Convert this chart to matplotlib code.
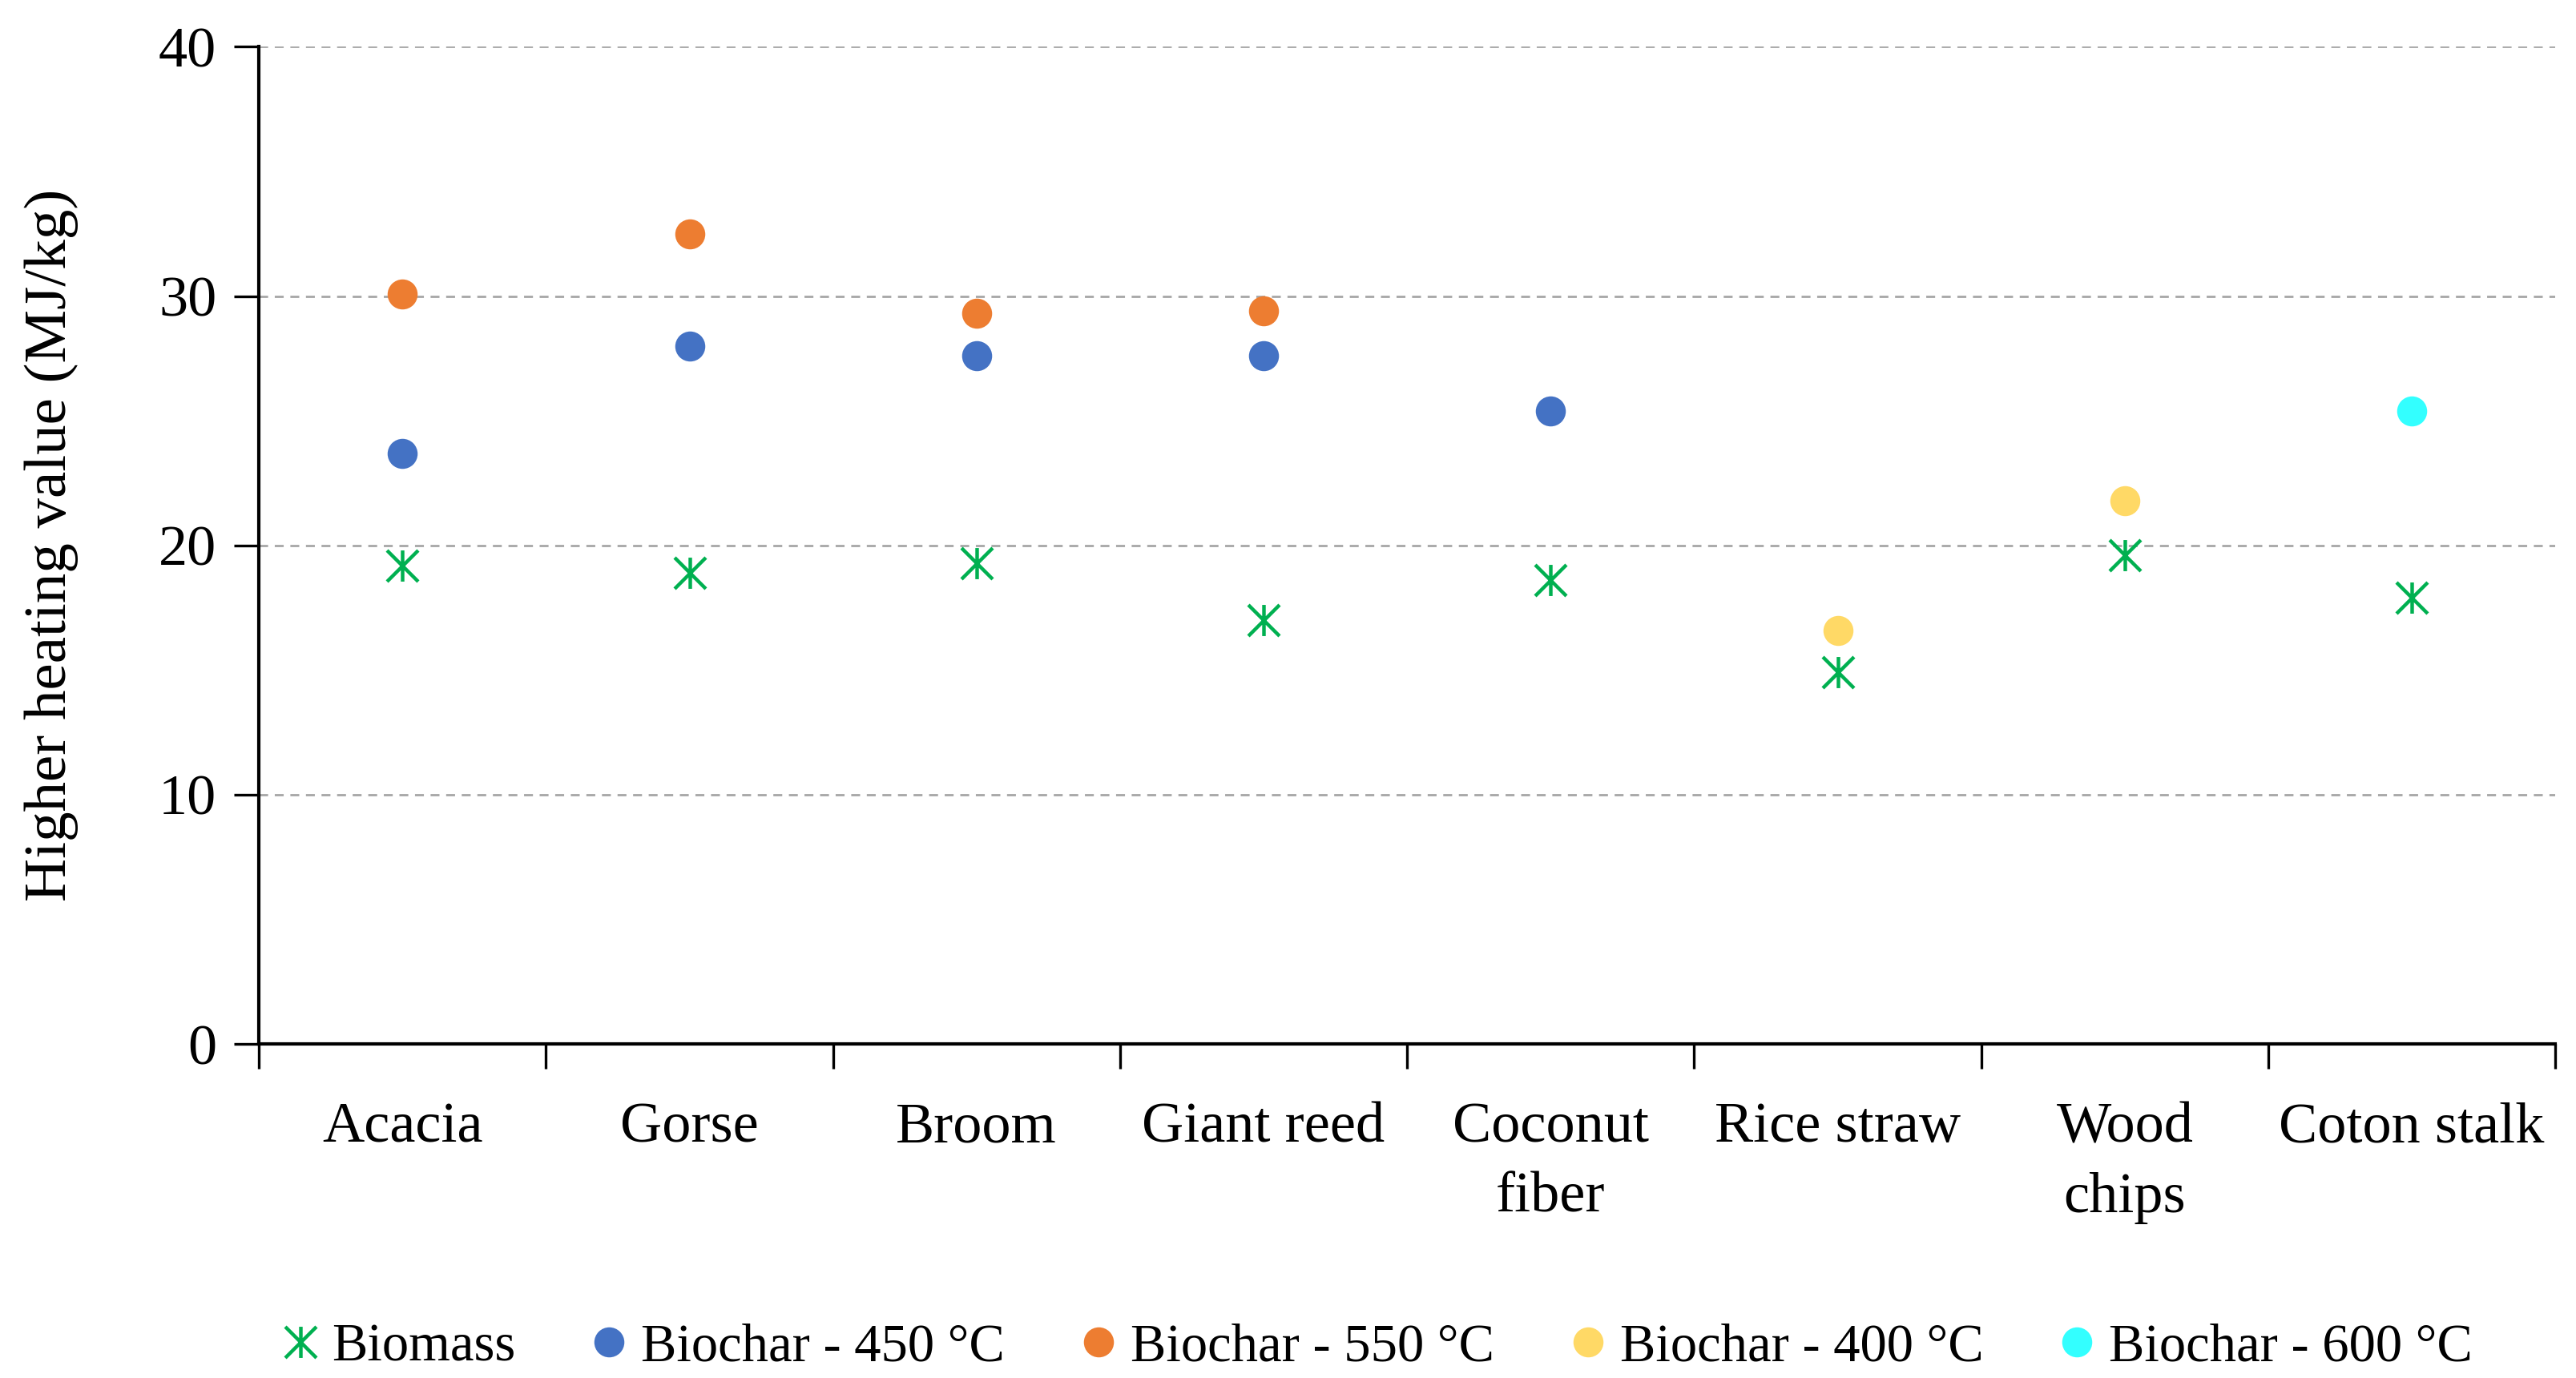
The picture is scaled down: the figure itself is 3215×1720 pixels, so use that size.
import numpy as np
import matplotlib
matplotlib.use('Agg')
import matplotlib.pyplot as plt
from matplotlib.path import Path

# данные
categories = ['Acacia', 'Gorse', 'Broom', 'Giant reed', 'Coconut\nfiber',
              'Rice straw', 'Wood\nchips', 'Coton stalk']
biomass = [19.2, 18.9, 19.3, 17.0, 18.6, 14.9, 19.6, 17.9]
biochar_450 = [23.7, 28.0, 27.6, 27.6, 25.4, None, None, None]
biochar_550 = [30.1, 32.5, 29.3, 29.4, None, None, None, None]
biochar_400 = [None, None, None, None, None, 16.6, 21.8, None]
biochar_600 = [None, None, None, None, None, None, None, 25.4]

plt.rcParams['font.family'] = ['Liberation Serif', 'DejaVu Serif']

# маркер "звезда" как в Excel: вертикаль + крест
star = Path([(0, -1), (0, 1), (-1, -1), (1, 1), (-1, 1), (1, -1)],
            [Path.MOVETO, Path.LINETO, Path.MOVETO, Path.LINETO, Path.MOVETO, Path.LINETO])

def to_arr(v):
    return np.array([np.nan if a is None else a for a in v], dtype=float)

x = np.arange(len(categories))

fig = plt.figure(figsize=(16.075, 8.6), dpi=200)
ax = fig.add_axes([0.1005, 0.2424, 0.8915, 0.7236])

ax.plot(x, to_arr(biomass), linestyle='none', marker=star, markersize=14,
        markeredgewidth=1.6, color='#00B050', label='Biomass')
series = [(biochar_450, '#4472C4', 'Biochar - 450 °C'),
          (biochar_550, '#ED7D31', 'Biochar - 550 °C'),
          (biochar_400, '#FFD966', 'Biochar - 400 °C'),
          (biochar_600, '#33FFFF', 'Biochar - 600 °C')]
for vals, col, lab in series:
    ax.plot(x, to_arr(vals), linestyle='none', marker='o', markersize=13.5,
            markeredgewidth=0, color=col, label=lab)

ax.set_xlim(-0.5, len(categories) - 0.5)
ax.set_ylim(0, 40)
ax.set_yticks([0, 10, 20, 30, 40])
ax.yaxis.grid(True, linestyle=(0, (4, 3)), color='#A6A6A6', linewidth=1.0)
ax.set_axisbelow(True)

ax.set_xticks(x)
ax.set_xticklabels(categories, fontsize=26, linespacing=1.45)
ax.set_xticks(np.arange(-0.5, len(categories)), minor=True)
ax.tick_params(axis='x', which='major', length=0, pad=26)
ax.tick_params(axis='x', which='minor', length=11, width=1.2, direction='out')
ax.tick_params(axis='y', length=11, width=1.2, labelsize=26, pad=8)

for s in ['top', 'right']:
    ax.spines[s].set_visible(False)
ax.spines['left'].set_linewidth(1.5)
ax.spines['bottom'].set_linewidth(1.5)

ax.set_ylabel('Higher heating value (MJ/kg)', fontsize=27, labelpad=36)

fig.legend(loc='center', bbox_to_anchor=(0.533, 0.022), ncol=5, frameon=False,
           fontsize=24, handletextpad=0.1, columnspacing=1.25, handlelength=1.0)

fig.savefig('out.png', dpi=200)
